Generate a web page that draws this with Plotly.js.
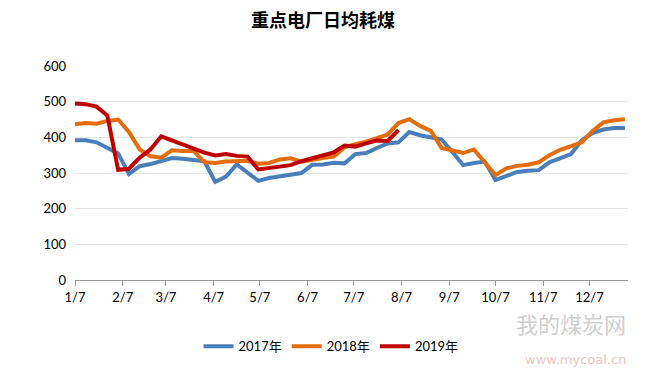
<!DOCTYPE html>
<html>
<head>
<meta charset="utf-8">
<script src="https://cdn.plot.ly/plotly-3.0.1.min.js"></script>
<style>html,body{margin:0;padding:0;background:#fff;}#chart{width:646px;height:378px;}</style>
</head>
<body>
<div id="chart"></div>
<script>
const dates = ["2019-01-07","2019-01-14","2019-01-21","2019-01-28","2019-02-04","2019-02-11","2019-02-18","2019-02-25",
"2019-03-04","2019-03-11","2019-03-18","2019-03-25","2019-04-01","2019-04-08","2019-04-15","2019-04-22","2019-04-29",
"2019-05-06","2019-05-13","2019-05-20","2019-05-27","2019-06-03","2019-06-10","2019-06-17","2019-06-24",
"2019-07-01","2019-07-08","2019-07-15","2019-07-22","2019-07-29","2019-08-05","2019-08-12","2019-08-19","2019-08-26",
"2019-09-02","2019-09-09","2019-09-16","2019-09-23","2019-09-30","2019-10-07","2019-10-14","2019-10-21","2019-10-28",
"2019-11-04","2019-11-11","2019-11-18","2019-11-25","2019-12-02","2019-12-09","2019-12-16","2019-12-23","2019-12-30"];
const s2017 = [392,392,386,369,355,297,319,325,333,342,340,337,333,275,290,324,300,278,286,291,297,300,323,324,329,327,353,356,370,383,386,415,406,400,394,359,322,328,332,280,292,303,306,308,330,342,353,392,412,422,426,426];
const s2018 = [437,440,438,446,450,415,366,347,343,364,362,362,330,328,332,334,334,326,328,338,341,332,338,342,346,372,381,388,398,408,440,451,432,418,370,362,356,366,332,294,313,320,323,330,350,365,375,386,418,442,448,451];
const s2019 = [495,493,486,461,309,312,343,366,403,392,381,370,357,349,353,348,346,310,314,318,322,333,342,350,358,377,374,383,391,390,420];
const seriesNames = ["2017年","2018年","2019年"];
const seriesColors = ["#4a7ebb","#e46c0a","#c00000"];
const tickDates = ["2019-01-07","2019-02-07","2019-03-07","2019-04-07","2019-05-07","2019-06-07","2019-07-07","2019-08-07","2019-09-07","2019-10-07","2019-11-07","2019-12-07"];
const tickLabels = ["1/7","2/7","3/7","4/7","5/7","6/7","7/7","8/7","9/7","10/7","11/7","12/7"];
const yTicks = [0,100,200,300,400,500,600];

const allSeries = [s2017, s2018, s2019];
const traces = allSeries.map((vals, k) => ({
  type: "scatter", mode: "lines",
  x: dates.slice(0, vals.length), y: vals,
  name: seriesNames[k],
  line: {color: seriesColors[k], width: 4, shape: "linear"},
  hoverinfo: "x+y+name"
}));

const layout = {
  width: 646, height: 378,
  margin: {l: 75, r: 18, t: 66, b: 98},
  paper_bgcolor: "#ffffff", plot_bgcolor: "#ffffff",
  font: {family: "Lato, 'Noto Sans CJK SC', sans-serif", size: 13, color: "#000000"},
  title: {text: "<b>重点电厂日均耗煤</b>", x: 0.5, xref: "container", xanchor: "center", y: 0.945, yanchor: "middle",
          font: {family: "'Noto Sans CJK SC', sans-serif", size: 18, color: "#000000"}},
  xaxis: {
    type: "date", range: ["2019-01-07", "2020-01-01"],
    tickmode: "array", tickvals: tickDates, ticktext: tickLabels,
    showgrid: false, zeroline: false,
    showline: true, linecolor: "#999999", linewidth: 1,
    ticks: "outside", ticklen: 5, tickcolor: "#999999",
    tickfont: {family: "Lato, sans-serif", size: 13, color: "#000000"}
  },
  yaxis: {
    range: [0, 600], tickmode: "array", tickvals: yTicks,
    showgrid: true, gridcolor: "#e6e6e6", gridwidth: 1,
    zeroline: false, showline: false, ticks: "",
    ticklabelstandoff: 8,
    tickfont: {family: "Lato, sans-serif", size: 13, color: "#000000"}
  },
  showlegend: true,
  legend: {orientation: "h", x: 0.463, xanchor: "center", y: -0.31, yanchor: "middle",
           font: {family: "Lato, 'Noto Sans CJK SC', sans-serif", size: 13, color: "#000000"},
           itemwidth: 30, bgcolor: "rgba(0,0,0,0)"},
  annotations: [
    {text: "我的煤炭网", xref: "paper", yref: "paper", x: 1.0, y: -0.2, xanchor: "right", yanchor: "middle",
     showarrow: false, font: {family: "'Noto Sans CJK SC', sans-serif", size: 22, color: "#cfcfcf"}},
    {text: "www.mycoal.cn", xref: "paper", yref: "paper", x: 1.0, y: -0.37, xanchor: "right", yanchor: "middle",
     showarrow: false, font: {family: "'DejaVu Sans', sans-serif", size: 13, color: "#ecc4c4"}}
  ]
};

Plotly.newPlot("chart", traces, layout, {displayModeBar: false, staticPlot: true});
</script>
</body>
</html>
